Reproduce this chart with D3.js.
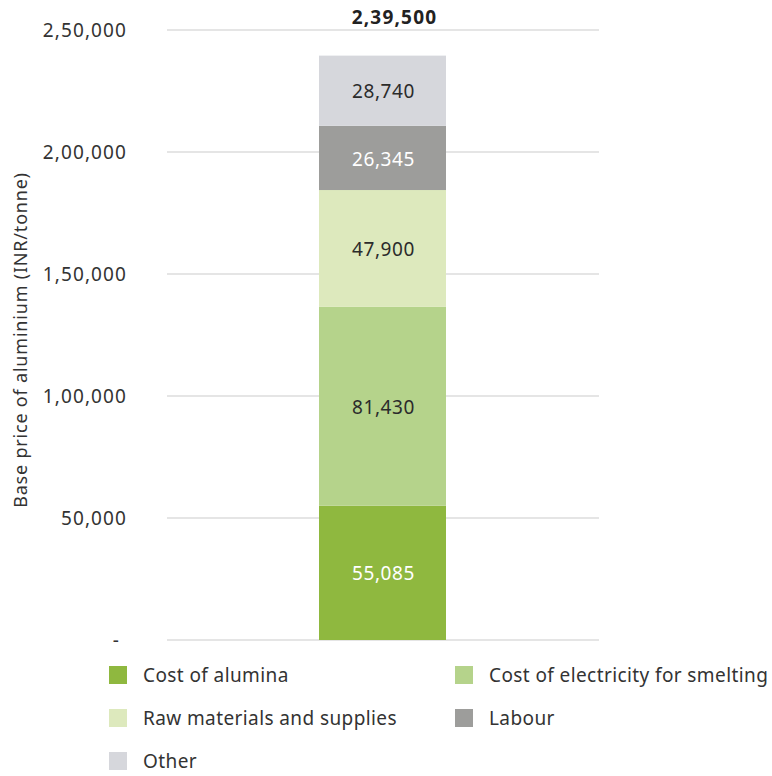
<!DOCTYPE html>
<html>
<head>
<meta charset="utf-8">
<script src="https://cdn.jsdelivr.net/npm/d3@7"></script>
<style>
  body { margin: 0; background: #fff; }
  text { font-family: "Noto Sans", "Open Sans", sans-serif; }
</style>
</head>
<body>
<div id="chart"></div>
<script>
// data
const categories = ["Cost of alumina", "Cost of electricity for smelting", "Raw materials and supplies", "Labour", "Other"]
const values = [55085, 81430, 47900, 26345, 28740]
const total = 239500
const yTicks = [0, 50000, 100000, 150000, 200000, 250000]
const colors = ["#8fb83f", "#b5d38b", "#dde9bd", "#9d9d9b", "#d6d7dc"]
const labelColors = ["#ffffff", "#2b2b2b", "#2b2b2b", "#ffffff", "#2b2b2b"]

const width = 772
const height = 776
const marginTop = 30        // top of the 2,50,000 line
const marginLeft = 167      // gridline start
const plotRight = 599       // gridline end
const plotBottom = 640      // zero line

// indian grouping, 239500 -> 2,39,500
const fmtIN = v => {
    const s = String(Math.round(v))
    if (s.length <= 3) return s
    const last = s.slice(-3)
    let rest = s.slice(0, -3)
    const parts = []
    while (rest.length > 2) {
        parts.unshift(rest.slice(-2))
        rest = rest.slice(0, -2)
    }
    if (rest) parts.unshift(rest)
    return parts.join(",") + "," + last
}

const svg = d3.select("#chart")
    .append("svg")
    .attr("width", width)
    .attr("height", height)
    .attr("viewBox", [0, 0, width, height])

const y = d3.scaleLinear([0, 250000], [plotBottom, marginTop])

// gridlines
svg.append("g")
    .selectAll("line")
    .data(yTicks)
    .join("line")
    .attr("x1", marginLeft)
    .attr("x2", plotRight)
    .attr("y1", d => y(d))
    .attr("y2", d => y(d))
    .attr("stroke", "#dcdcdc")
    .attr("stroke-width", 1.5)

// y axis labels
const yAxis = d3.axisLeft(y)
    .tickValues(yTicks)
    .tickSize(0)
    .tickPadding(0)
    .tickFormat(d => d === 0 ? "-" : fmtIN(d))

svg.append("g")
    .attr("transform", `translate(127,0)`)
    .call(yAxis)
    .call(g => g.select(".domain").remove())
    .call(g => g.selectAll("text")
        .attr("font-family", "'Noto Sans', sans-serif")
        .attr("font-size", 19)
        .attr("letter-spacing", 1.1)
        .attr("fill", "#333"))
    .call(g => g.selectAll(".tick").filter(d => d === 0).select("text")
        .attr("dx", -7))

svg.append("text")
    .attr("transform", `translate(27,${(marginTop + plotBottom) / 2 + 5}) rotate(-90)`)
    .attr("text-anchor", "middle")
    .attr("font-size", 18)
    .attr("letter-spacing", 0.8)
    .attr("fill", "#333")
    .text("Base price of aluminium (INR/tonne)")

// stacked segments
const stacked = []
let acc = 0
values.forEach((v, i) => {
    stacked.push({ i, y0: acc, y1: acc + v, v })
    acc += v
})

const barX = 319
const barW = 127

const seg = svg.append("g")
    .selectAll("g")
    .data(stacked)
    .join("g")

seg.append("rect")
    .attr("x", barX)
    .attr("width", barW)
    .attr("y", d => y(d.y1))
    .attr("height", d => y(d.y0) - y(d.y1))
    .attr("fill", d => colors[d.i])

seg.append("text")
    .attr("x", barX + barW / 2 + 1)
    .attr("y", d => (y(d.y0) + y(d.y1)) / 2 + 1)
    .attr("dy", "0.35em")
    .attr("text-anchor", "middle")
    .attr("font-size", 19)
    .attr("letter-spacing", 0.6)
    .attr("fill", d => labelColors[d.i])
    .text(d => fmtIN(d.v))

// total on top
svg.append("text")
    .attr("x", barX + barW / 2 + 12)
    .attr("y", 17)
    .attr("dy", "0.35em")
    .attr("text-anchor", "middle")
    .attr("font-size", 19)
    .attr("font-weight", "bold")
    .attr("letter-spacing", 1.2)
    .attr("fill", "#222")
    .text(fmtIN(total))

// legend
const legendPos = [[109, 675], [455, 675], [109, 718], [455, 718], [109, 761]]
const lg = svg.append("g")
    .selectAll("g")
    .data(categories)
    .join("g")
    .attr("transform", (d, i) => `translate(${legendPos[i][0]},${legendPos[i][1]})`)

lg.append("rect")
    .attr("x", 0)
    .attr("y", -9)
    .attr("width", 18)
    .attr("height", 18)
    .attr("fill", (d, i) => colors[i])

lg.append("text")
    .attr("x", 34)
    .attr("dy", "0.35em")
    .attr("font-size", 19)
    .attr("letter-spacing", 0.4)
    .attr("fill", "#333")
    .text(d => d)
</script>
</body>
</html>
